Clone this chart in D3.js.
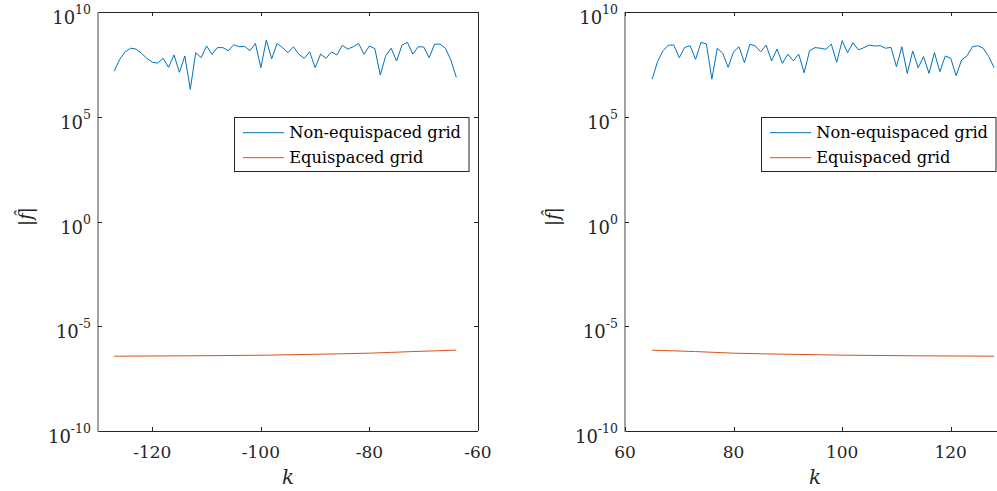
<!DOCTYPE html>
<html><head><meta charset="utf-8">
<script src="https://cdn.jsdelivr.net/npm/d3@7"></script>
<style>body{margin:0;background:#fff}svg{display:block}</style>
</head><body>
<svg id="c" width="997" height="491"></svg>
<script>
// ---------------- data ----------------
const kLeft = d3.range(-127, -63);   // -127 .. -64
const kRight = d3.range(65, 129);    // 65 .. 128
// log10 |f^| of the non-equispaced grid
const nonEqLeftLog10 = [7.18,7.74,8.10,8.27,8.23,8.03,7.79,7.60,7.56,7.79,7.36,7.95,7.12,7.90,6.31,8.06,
  7.82,8.38,7.98,8.30,8.30,8.15,8.44,8.34,8.36,8.15,8.50,7.34,8.66,7.77,8.50,8.30,8.06,8.34,7.98,7.79,
  8.10,7.34,7.99,7.79,8.09,7.95,8.41,8.23,8.34,8.50,7.98,8.38,8.25,6.99,7.91,8.27,7.66,8.42,8.55,7.99,
  8.34,8.33,7.82,8.46,8.47,8.27,7.71,6.88];
const nonEqRightLog10 = [6.79,7.63,8.15,8.42,8.42,7.82,8.31,8.39,7.74,8.55,8.47,6.79,8.27,8.03,7.36,8.10,
  8.34,7.58,8.46,8.38,8.10,8.42,7.66,8.23,7.55,7.99,7.67,7.99,7.10,8.15,8.30,8.27,8.22,8.47,7.60,8.63,
  8.06,8.53,8.19,8.30,8.42,8.38,8.39,8.27,8.31,7.39,8.34,7.07,8.14,7.34,7.87,7.07,8.06,7.15,7.90,7.79,
  6.96,7.71,7.91,8.34,8.39,8.27,7.87,7.34];
// equispaced grid (smooth curve, read at a few k)
const eqLeftK = [-127, -113, -99, -86, -80, -72, -64];
const eqLeftVal = [3.73e-7, 3.89e-7, 4.17e-7, 4.8e-7, 5.19e-7, 6.2e-7, 7.23e-7];
const eqRightK = [65, 73, 80, 86, 100, 113, 128];
const eqRightVal = [7.23e-7, 6.2e-7, 5.19e-7, 4.8e-7, 4.17e-7, 3.89e-7, 3.73e-7];
const yTickExp = [-10, -5, 0, 5, 10];
const xTicksLeft = [-120, -100, -80, -60];
const xTicksRight = [60, 80, 100, 120];
const legendLabels = ["Non-equispaced grid", "Equispaced grid"];
const colors = ["#0072BD", "#D95319"];

// ---------------- drawing ----------------
const svg = d3.select("#c");
const FONT = "'DejaVu Serif', serif";
const yTop = 12, yBot = 431;
let legendFs = 16;

function panel(x0, x1, domain, kArr, nonEqLog, eqK, eqV, xTicks) {
  const g = svg.append("g");
  const x = d3.scaleLinear().domain(domain).range([x0, x1]);
  const y = d3.scaleLog().domain([1e-10, 1e10]).range([yBot, yTop]);

  // lines
  const line = d3.line().x(d => x(d[0])).y(d => y(d[1]));
  g.append("path").datum(kArr.map((k, i) => [k, Math.pow(10, nonEqLog[i])]))
    .attr("d", line).attr("fill", "none").attr("stroke", colors[0]).attr("stroke-width", 1);
  const curve = d3.line().x(d => x(d[0])).y(d => y(d[1])).curve(d3.curveMonotoneX);
  g.append("path").datum(eqK.map((k, i) => [k, eqV[i]]))
    .attr("d", curve).attr("fill", "none").attr("stroke", colors[1]).attr("stroke-width", 1);

  // box
  g.append("line").attr("x1", x0).attr("x2", x1).attr("y1", yTop + 0.5).attr("y2", yTop + 0.5)
    .attr("stroke", "#262626").attr("stroke-width", 1);
  g.append("line").attr("x1", x0).attr("x2", x1).attr("y1", yBot + 0.5).attr("y2", yBot + 0.5)
    .attr("stroke", "#262626").attr("stroke-width", 1);
  g.append("line").attr("x1", x1 + 0.5).attr("x2", x1 + 0.5).attr("y1", yTop).attr("y2", yBot)
    .attr("stroke", "#262626").attr("stroke-width", 1);
  g.append("line").attr("x1", x0).attr("x2", x0).attr("y1", yTop).attr("y2", yBot + 1)
    .attr("stroke", "#8c8c8c").attr("stroke-width", 1.6);

  // x ticks
  xTicks.forEach(t => {
    const px = Math.round(x(t)) + 0.5;
    g.append("line").attr("x1", px).attr("x2", px).attr("y1", yBot).attr("y2", yBot - 4)
      .attr("stroke", "#262626");
    g.append("line").attr("x1", px).attr("x2", px).attr("y1", yTop).attr("y2", yTop + 4)
      .attr("stroke", "#262626");
    g.append("text").attr("x", x(t)).attr("y", 458).attr("text-anchor", "middle")
      .attr("font-family", FONT).attr("font-size", 17).attr("fill", "#262626").text(t);
  });
  // y ticks
  yTickExp.forEach(e => {
    const py = Math.round(y(Math.pow(10, e))) + 0.5;
    if (e !== -10 && e !== 10) {
      g.append("line").attr("x1", x0).attr("x2", x0 + 4).attr("y1", py).attr("y2", py).attr("stroke", "#262626");
      g.append("line").attr("x1", x1).attr("x2", x1 - 4).attr("y1", py).attr("y2", py).attr("stroke", "#262626");
    }
    const t = g.append("text").attr("x", x0 - 7).attr("y", y(Math.pow(10, e)) + 12)
      .attr("text-anchor", "end").attr("font-family", FONT).attr("fill", "#262626");
    t.append("tspan").attr("font-size", 18).text("10");
    t.append("tspan").attr("font-size", 12.5).attr("dy", -10).text(String(e));
  });

  // axis labels
  g.append("text").attr("x", (x0 + x1) / 2).attr("y", 484).attr("text-anchor", "middle")
    .attr("font-family", FONT).attr("font-style", "italic").attr("font-size", 20).attr("fill", "#262626").text("k");
  g.append("text").attr("transform", `translate(${x0 - 66},${(yTop + yBot) / 2 - 5}) rotate(-90)`)
    .attr("text-anchor", "middle").attr("font-family", FONT).attr("font-size", 18).attr("fill", "#262626")
    .call(s => { s.append("tspan").text("|"); s.append("tspan").attr("font-style", "italic").text("f\u0302"); s.append("tspan").text("|"); });

  // legend
  const lx = x1 - 10 - 234.5, ly = 117, lw = 234.5, lh = 54;
  const lg = g.append("g");
  lg.append("rect").attr("x", Math.round(lx) + 0.5).attr("y", ly + 0.5).attr("width", lw).attr("height", lh)
    .attr("fill", "#fff").attr("stroke", "#262626").attr("stroke-width", 1);
  legendLabels.forEach((lab, i) => {
    const cy = ly + 15.7 + i * 25;
    lg.append("line").attr("x1", lx + 9.4).attr("x2", lx + 50.7).attr("y1", cy).attr("y2", cy)
      .attr("stroke", colors[i]).attr("stroke-width", 1);
    const t = lg.append("text").attr("x", lx + 55.7).attr("y", cy + 5.5)
      .attr("font-family", FONT).attr("font-size", 16).attr("fill", "#000").text(lab);
    if (i === 0) {
      const w = t.node().getComputedTextLength();
      legendFs = 16 * 172 / w;
      t.attr("font-size", legendFs);
    } else {
      t.attr("font-size", legendFs);
    }
  });
}

panel(98, 478, [-130, -60], kLeft, nonEqLeftLog10, eqLeftK, eqLeftVal, xTicksLeft);
panel(625, 1005, [60, 130], kRight, nonEqRightLog10, eqRightK, eqRightVal, xTicksRight);
</script>
</body></html>
